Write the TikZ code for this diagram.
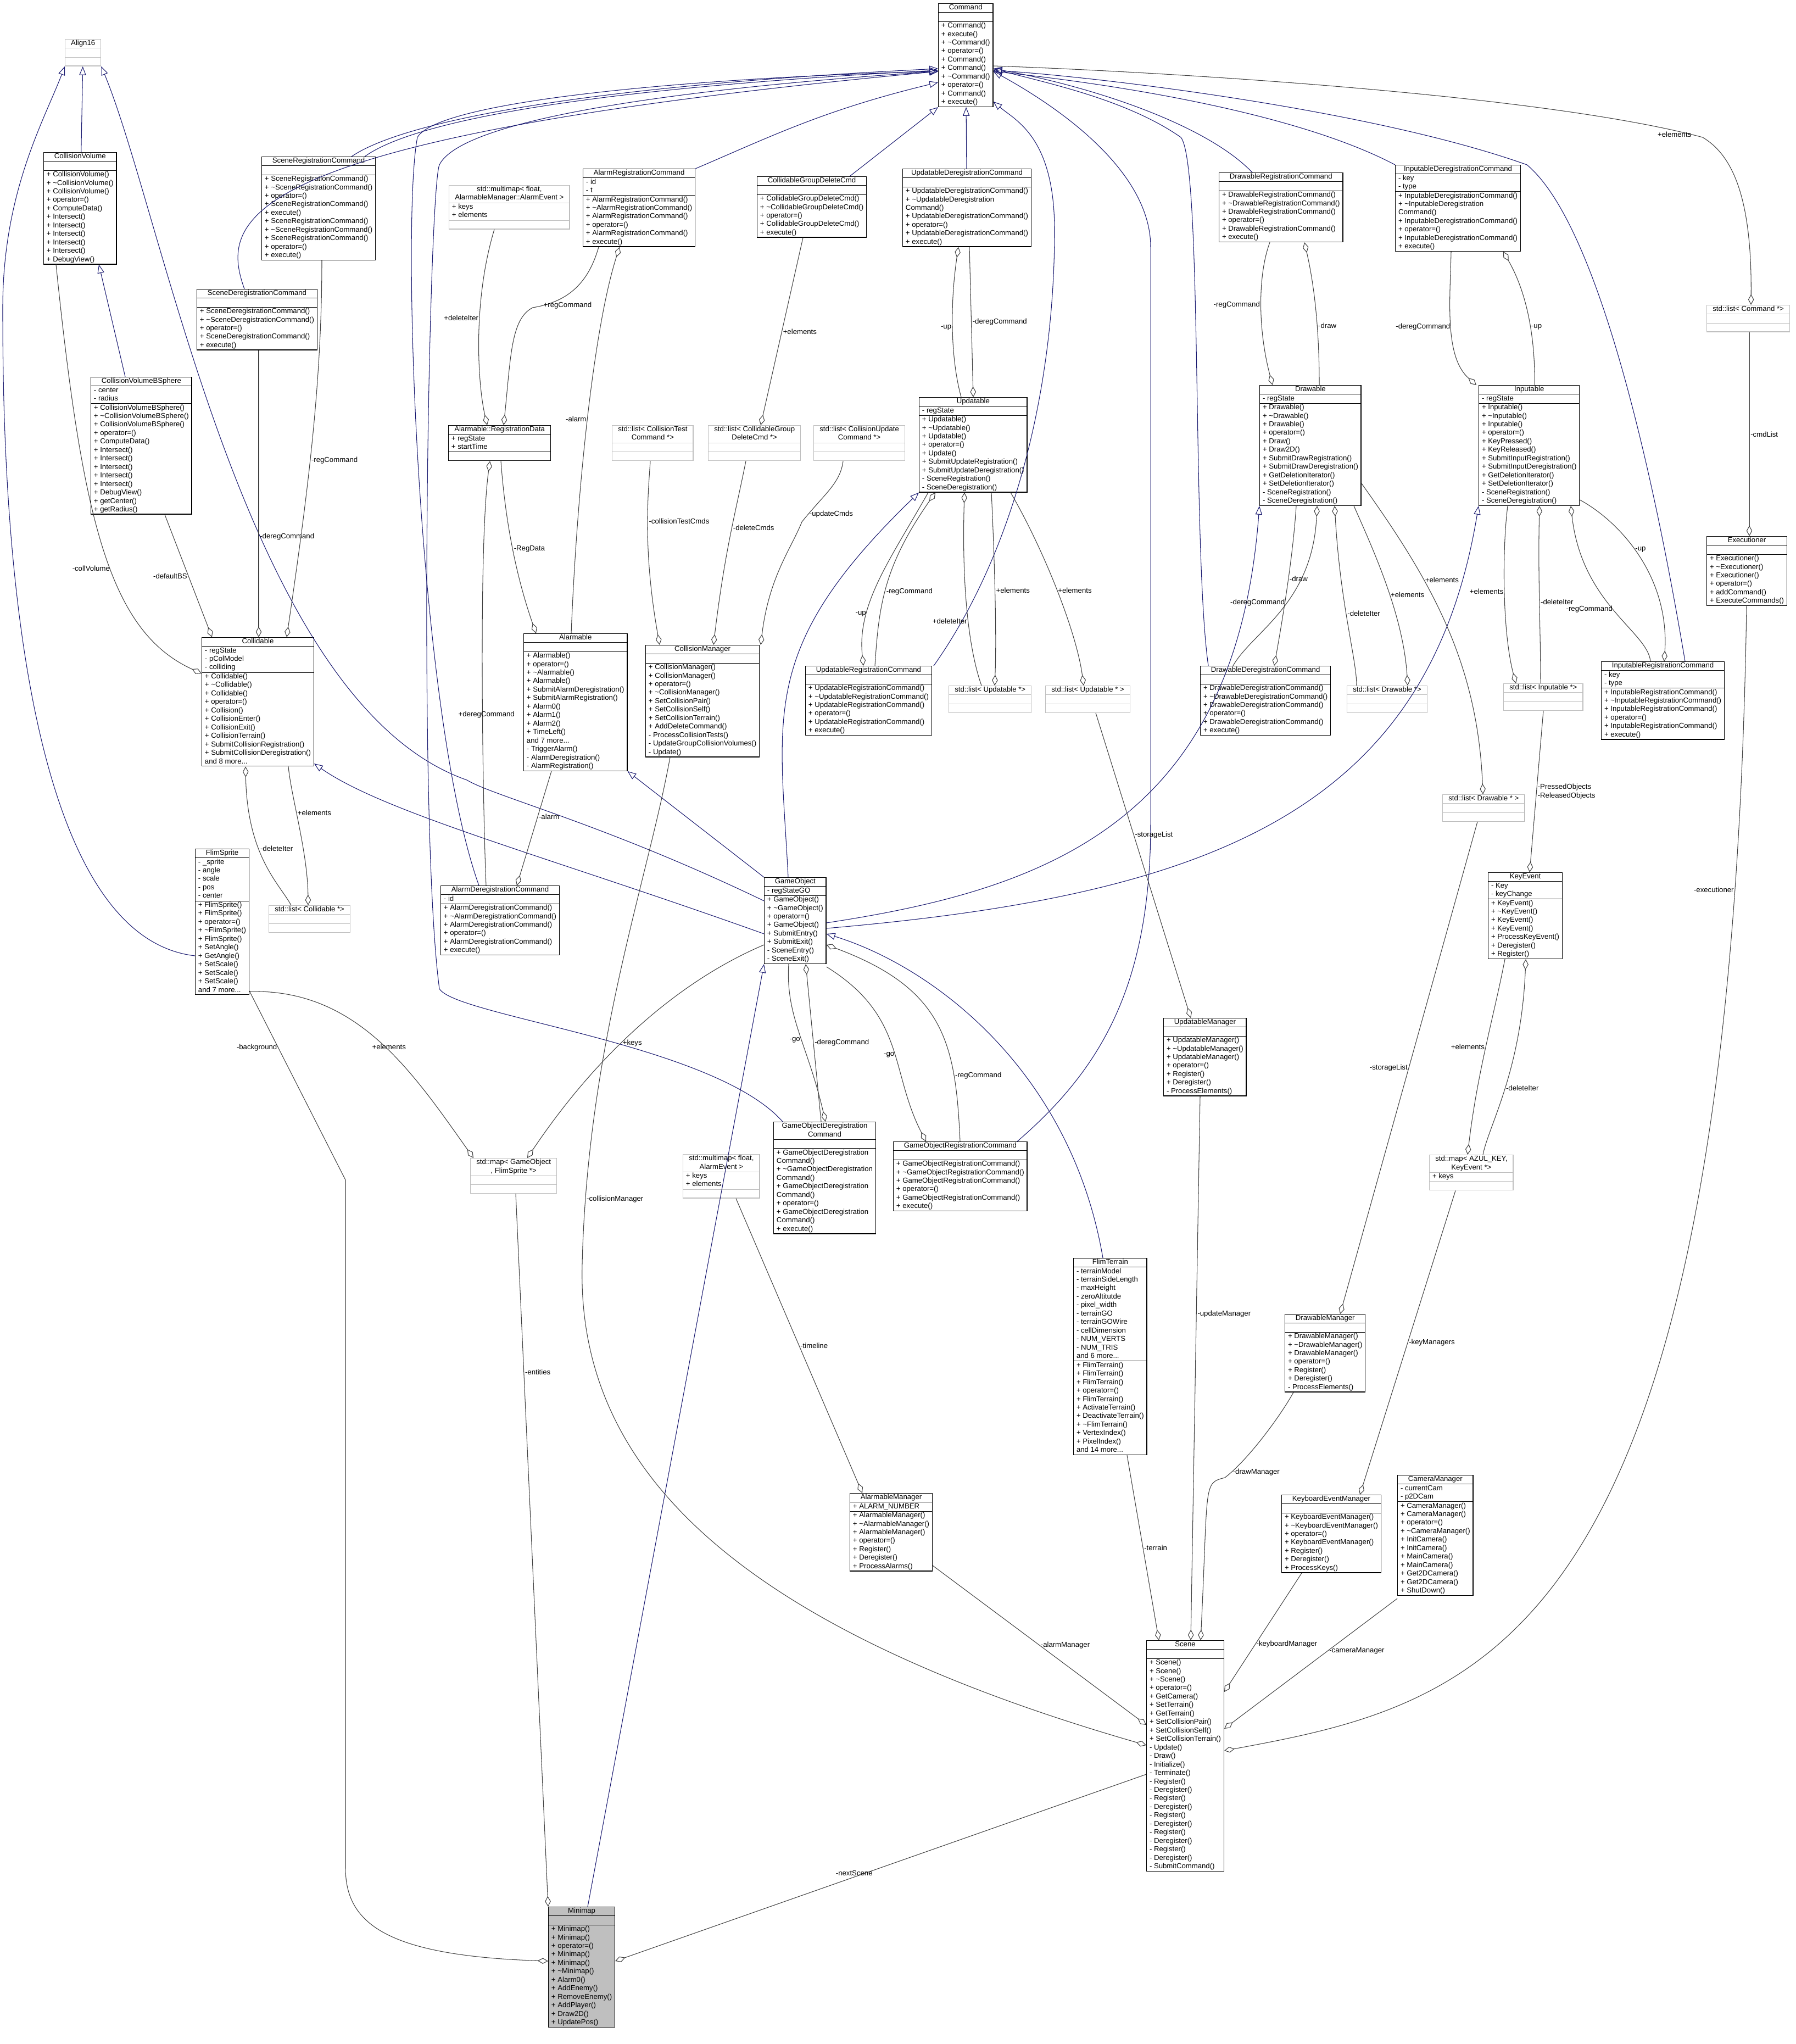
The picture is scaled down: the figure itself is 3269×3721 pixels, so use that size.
\documentclass[tikz,border=0pt]{standalone}
\usepackage{fontspec}
\setmainfont{Liberation Sans}
\usepackage[table]{xcolor}
\usetikzlibrary{arrows.meta}
\definecolor{navy}{RGB}{25,25,112}
\definecolor{aggc}{RGB}{64,64,64}
\definecolor{tmplc}{RGB}{191,191,191}
\setlength{\arrayrulewidth}{0.6pt}
\newcommand{\til}{\textasciitilde}
\newcommand{\cls}[3]{\begin{tabular}{@{\hspace{3pt}}l@{\hspace{3pt}}}\multicolumn{1}{c}{#1}\\\hline #2\\\hline #3\\\end{tabular}}
\newcommand{\two}[2]{\begin{tabular}{@{}c@{}}#1\\#2\end{tabular}}
\tikzset{
  box/.style={draw=black, line width=0.8pt, inner sep=0pt, anchor=north west, fill=white, font=\fontsize{7.5}{8.8}\selectfont,
    execute at begin node=\arrayrulecolor{black}},
  tbox/.style={box, draw=tmplc, execute at begin node=\arrayrulecolor{tmplc}},
  inh/.style={draw=navy, line width=0.6pt, -{Triangle[open,length=9pt,width=7pt]}},
  agg/.style={draw=aggc, line width=0.6pt, {Diamond[open,length=11pt,width=6pt]}-},
  lbl/.style={font=\fontsize{7.5}{8.8}\selectfont, inner sep=1pt}
}
\begin{document}
\begin{tikzpicture}[x=0.02cm,y=-0.02cm]
\useasboundingbox (0,0) rectangle (3269,3721);
% classes, top rows
\node[tbox] (align) at (118,71) {\cls{Align16}{}{}};
\node[box] (command) at (1708,6) {\cls{Command}{}{+ Command()\\+ execute()\\+ \til Command()\\+ operator=()\\+ Command()\\+ Command()\\+ \til Command()\\+ operator=()\\+ Command()\\+ execute()}};
\node[box] (collvol) at (79,277) {\cls{CollisionVolume}{}{+ CollisionVolume()\\+ \til CollisionVolume()\\+ CollisionVolume()\\+ operator=()\\+ ComputeData()\\+ Intersect()\\+ Intersect()\\+ Intersect()\\+ Intersect()\\+ Intersect()\\+ DebugView()}};
\node[box] (bsphere) at (165,686) {\cls{CollisionVolumeBSphere}{- center\\- radius}{+ CollisionVolumeBSphere()\\+ \til CollisionVolumeBSphere()\\+ CollisionVolumeBSphere()\\+ operator=()\\+ ComputeData()\\+ Intersect()\\+ Intersect()\\+ Intersect()\\+ Intersect()\\+ Intersect()\\+ DebugView()\\+ getCenter()\\+ getRadius()}};
\node[box] (scenereg) at (476,285) {\cls{SceneRegistrationCommand}{}{+ SceneRegistrationCommand()\\+ \til SceneRegistrationCommand()\\+ operator=()\\+ SceneRegistrationCommand()\\+ execute()\\+ SceneRegistrationCommand()\\+ \til SceneRegistrationCommand()\\+ SceneRegistrationCommand()\\+ operator=()\\+ execute()}};
\node[box] (scenedereg) at (358,526) {\cls{SceneDeregistrationCommand}{}{+ SceneDeregistrationCommand()\\+ \til SceneDeregistrationCommand()\\+ operator=()\\+ SceneDeregistrationCommand()\\+ execute()}};
\node[tbox] (mmalarmev) at (817,337) {\cls{\two{std::multimap< float,}{AlarmableManager::AlarmEvent >}}{+ keys\\+ elements}{}};
\node[box] (regdata) at (816,774) {\cls{Alarmable::RegistrationData}{+ regState\\+ startTime}{}};
\node[box] (alarmreg) at (1061,307) {\cls{AlarmRegistrationCommand}{- id\\- t}{+ AlarmRegistrationCommand()\\+ \til AlarmRegistrationCommand()\\+ AlarmRegistrationCommand()\\+ operator=()\\+ AlarmRegistrationCommand()\\+ execute()}};
\node[box] (cgdc) at (1378,321) {\cls{CollidableGroupDeleteCmd}{}{+ CollidableGroupDeleteCmd()\\+ \til CollidableGroupDeleteCmd()\\+ operator=()\\+ CollidableGroupDeleteCmd()\\+ execute()}};
\node[box] (upddereg) at (1643,307) {\cls{UpdatableDeregistrationCommand}{}{+ UpdatableDeregistrationCommand()\\+ \til UpdatableDeregistration\\Command()\\+ UpdatableDeregistrationCommand()\\+ operator=()\\+ UpdatableDeregistrationCommand()\\+ execute()}};
\node[box] (drawreg) at (2219,314) {\cls{DrawableRegistrationCommand}{}{+ DrawableRegistrationCommand()\\+ \til DrawableRegistrationCommand()\\+ DrawableRegistrationCommand()\\+ operator=()\\+ DrawableRegistrationCommand()\\+ execute()}};
\node[box] (inpdereg) at (2540,300) {\cls{InputableDeregistrationCommand}{- key\\- type}{+ InputableDeregistrationCommand()\\+ \til InputableDeregistration\\Command()\\+ InputableDeregistrationCommand()\\+ operator=()\\+ InputableDeregistrationCommand()\\+ execute()}};
\node[tbox] (lstcmd) at (3107,555) {\cls{std::list< Command *>}{}{}};
% middle rows
\node[tbox] (lstcoltest) at (1114,774) {\cls{\two{std::list< CollisionTest}{Command *>}}{}{}};
\node[tbox] (lstcgdc) at (1289,774) {\cls{\two{std::list< CollidableGroup}{DeleteCmd *>}}{}{}};
\node[tbox] (lstcolupd) at (1481,774) {\cls{\two{std::list< CollisionUpdate}{Command *>}}{}{}};
\node[box] (updatable) at (1673,723) {\cls{Updatable}{- regState}{+ Updatable()\\+ \til Updatable()\\+ Updatable()\\+ operator=()\\+ Update()\\+ SubmitUpdateRegistration()\\+ SubmitUpdateDeregistration()\\- SceneRegistration()\\- SceneDeregistration()}};
\node[box] (drawable) at (2293,701) {\cls{Drawable}{- regState}{+ Drawable()\\+ \til Drawable()\\+ Drawable()\\+ operator=()\\+ Draw()\\+ Draw2D()\\+ SubmitDrawRegistration()\\+ SubmitDrawDeregistration()\\+ GetDeletionIterator()\\+ SetDeletionIterator()\\- SceneRegistration()\\- SceneDeregistration()}};
\node[box] (inputable) at (2692,701) {\cls{Inputable}{- regState}{+ Inputable()\\+ \til Inputable()\\+ Inputable()\\+ operator=()\\+ KeyPressed()\\+ KeyReleased()\\+ SubmitInputRegistration()\\+ SubmitInputDeregistration()\\+ GetDeletionIterator()\\+ SetDeletionIterator()\\- SceneRegistration()\\- SceneDeregistration()}};
\node[box] (executioner) at (3107,976) {\cls{Executioner}{}{+ Executioner()\\+ \til Executioner()\\+ Executioner()\\+ operator=()\\+ addCommand()\\+ ExecuteCommands()}};
\node[box] (collidable) at (367,1160) {\cls{Collidable}{- regState\\- pColModel\\- colliding}{+ Collidable()\\+ \til Collidable()\\+ Collidable()\\+ operator=()\\+ Collision()\\+ CollisionEnter()\\+ CollisionExit()\\+ CollisionTerrain()\\+ SubmitCollisionRegistration()\\+ SubmitCollisionDeregistration()\\and 8 more...}};
\node[box] (alarmable) at (953,1153) {\cls{Alarmable}{}{+ Alarmable()\\+ operator=()\\+ \til Alarmable()\\+ Alarmable()\\+ SubmitAlarmDeregistration()\\+ SubmitAlarmRegistration()\\+ Alarm0()\\+ Alarm1()\\+ Alarm2()\\+ TimeLeft()\\and 7 more...\\- TriggerAlarm()\\- AlarmDeregistration()\\- AlarmRegistration()}};
\node[box] (colmgr) at (1175,1174) {\cls{CollisionManager}{}{+ CollisionManager()\\+ CollisionManager()\\+ operator=()\\+ \til CollisionManager()\\+ SetCollisionPair()\\+ SetCollisionSelf()\\+ SetCollisionTerrain()\\+ AddDeleteCommand()\\- ProcessCollisionTests()\\- UpdateGroupCollisionVolumes()\\- Update()}};
\node[box] (updreg) at (1466,1212) {\cls{UpdatableRegistrationCommand}{}{+ UpdatableRegistrationCommand()\\+ \til UpdatableRegistrationCommand()\\+ UpdatableRegistrationCommand()\\+ operator=()\\+ UpdatableRegistrationCommand()\\+ execute()}};
\node[tbox] (lstupd) at (1727,1248) {\cls{std::list< Updatable *>}{}{}};
\node[tbox] (lstupdb) at (1903,1248) {\cls{std::list< Updatable * >}{}{}};
\node[box] (drawdereg) at (2185,1212) {\cls{DrawableDeregistrationCommand}{}{+ DrawableDeregistrationCommand()\\+ \til DrawableDeregistrationCommand()\\+ DrawableDeregistrationCommand()\\+ operator=()\\+ DrawableDeregistrationCommand()\\+ execute()}};
\node[tbox] (lstdraw) at (2452,1248) {\cls{std::list< Drawable *>}{}{}};
\node[tbox] (lstinp) at (2737,1244) {\cls{std::list< Inputable *>}{}{}};
\node[box] (inpreg) at (2915,1204) {\cls{InputableRegistrationCommand}{- key\\- type}{+ InputableRegistrationCommand()\\+ \til InputableRegistrationCommand()\\+ InputableRegistrationCommand()\\+ operator=()\\+ InputableRegistrationCommand()\\+ execute()}};
\node[tbox] (lstdrawb) at (2626,1446) {\cls{std::list< Drawable * >}{}{}};
\node[box] (flimsprite) at (355,1545) {\cls{FlimSprite}{- \_sprite\\- angle\\- scale\\- pos\\- center}{+ FlimSprite()\\+ FlimSprite()\\+ operator=()\\+ \til FlimSprite()\\+ FlimSprite()\\+ SetAngle()\\+ GetAngle()\\+ SetScale()\\+ SetScale()\\+ SetScale()\\and 7 more...}};
\node[tbox] (lstcollidable) at (489,1648) {\cls{std::list< Collidable *>}{}{}};
\node[box] (alarmdereg) at (802,1612) {\cls{AlarmDeregistrationCommand}{- id}{+ AlarmDeregistrationCommand()\\+ \til AlarmDeregistrationCommand()\\+ AlarmDeregistrationCommand()\\+ operator=()\\+ AlarmDeregistrationCommand()\\+ execute()}};
\node[box] (gameobj) at (1391,1597) {\cls{GameObject}{- regStateGO}{+ GameObject()\\+ \til GameObject()\\+ operator=()\\+ GameObject()\\+ SubmitEntry()\\+ SubmitExit()\\- SceneEntry()\\- SceneExit()}};
\node[box] (keyevent) at (2709,1588) {\cls{KeyEvent}{- Key\\- keyChange}{+ KeyEvent()\\+ \til KeyEvent()\\+ KeyEvent()\\+ KeyEvent()\\+ ProcessKeyEvent()\\+ Deregister()\\+ Register()}};
\node[box] (updmgr) at (2118,1853) {\cls{UpdatableManager}{}{+ UpdatableManager()\\+ \til UpdatableManager()\\+ UpdatableManager()\\+ operator=()\\+ Register()\\+ Deregister()\\- ProcessElements()}};
\node[box] (godereg) at (1408,2042) {\cls{\two{GameObjectDeregistration}{Command}}{}{+ GameObjectDeregistration\\Command()\\+ \til GameObjectDeregistration\\Command()\\+ GameObjectDeregistration\\Command()\\+ operator=()\\+ GameObjectDeregistration\\Command()\\+ execute()}};
\node[box] (goreg) at (1626,2078) {\cls{GameObjectRegistrationCommand}{}{+ GameObjectRegistrationCommand()\\+ \til GameObjectRegistrationCommand()\\+ GameObjectRegistrationCommand()\\+ operator=()\\+ GameObjectRegistrationCommand()\\+ execute()}};
\node[tbox] (mapgo) at (856,2108) {\cls{\two{std::map< GameObject}{*, FlimSprite *>}}{}{}};
\node[tbox] (mmalarm) at (1243,2101) {\cls{\two{std::multimap< float,}{AlarmEvent >}}{+ keys\\+ elements}{}};
\node[tbox] (mapkey) at (2602,2102) {\cls{\two{std::map< AZUL\_KEY,}{KeyEvent *>}}{+ keys}{}};
% bottom rows
\node[box] (flimterrain) at (1954,2290) {\cls{FlimTerrain}{- terrainModel\\- terrainSideLength\\- maxHeight\\- zeroAltitutde\\- pixel\_width\\- terrainGO\\- terrainGOWire\\- cellDimension\\- NUM\_VERTS\\- NUM\_TRIS\\and 6 more...}{+ FlimTerrain()\\+ FlimTerrain()\\+ FlimTerrain()\\+ operator=()\\+ FlimTerrain()\\+ ActivateTerrain()\\+ DeactivateTerrain()\\+ \til FlimTerrain()\\+ VertexIndex()\\+ PixelIndex()\\and 14 more...}};
\node[box] (drawmgr) at (2339,2392) {\cls{DrawableManager}{}{+ DrawableManager()\\+ \til DrawableManager()\\+ DrawableManager()\\+ operator=()\\+ Register()\\+ Deregister()\\- ProcessElements()}};
\node[box] (alarmmgr) at (1547,2718) {\cls{AlarmableManager}{+ ALARM\_NUMBER}{+ AlarmableManager()\\+ \til AlarmableManager()\\+ AlarmableManager()\\+ operator=()\\+ Register()\\+ Deregister()\\+ ProcessAlarms()}};
\node[box] (kbdmgr) at (2333,2721) {\cls{KeyboardEventManager}{}{+ KeyboardEventManager()\\+ \til KeyboardEventManager()\\+ operator=()\\+ KeyboardEventManager()\\+ Register()\\+ Deregister()\\+ ProcessKeys()}};
\node[box] (cammgr) at (2544,2685) {\cls{CameraManager}{- currentCam\\- p2DCam}{+ CameraManager()\\+ CameraManager()\\+ operator=()\\+ \til CameraManager()\\+ InitCamera()\\+ InitCamera()\\+ MainCamera()\\+ MainCamera()\\+ Get2DCamera()\\+ Get2DCamera()\\+ ShutDown()}};
\node[box] (scene) at (2087,2986) {\cls{Scene}{}{+ Scene()\\+ Scene()\\+ \til Scene()\\+ operator=()\\+ GetCamera()\\+ SetTerrain()\\+ GetTerrain()\\+ SetCollisionPair()\\+ SetCollisionSelf()\\+ SetCollisionTerrain()\\- Update()\\- Draw()\\- Initialize()\\- Terminate()\\- Register()\\- Deregister()\\- Register()\\- Deregister()\\- Register()\\- Deregister()\\- Register()\\- Deregister()\\- Register()\\- Deregister()\\- SubmitCommand()}};
\node[box, fill=tmplc] (minimap) at (998,3471) {\cls{Minimap}{}{+ Minimap()\\+ Minimap()\\+ operator=()\\+ Minimap()\\+ Minimap()\\+ \til Minimap()\\+ Alarm0()\\+ AddEnemy()\\+ RemoveEnemy()\\+ AddPlayer()\\+ Draw2D()\\+ UpdatePos()}};
% inheritance
\draw[inh] (collvol) -- (align);
\draw[inh] (bsphere.north -| 228,0) -- (collvol.south -| 180,0);
\draw[inh] (flimsprite.west |- 0,1740) .. controls (10,1700) and (5,800) .. (5,560) .. controls (5,350) and (80,220) .. (align.south west);
\draw[inh] (gameobj.west |- 0,1640) .. controls (1100,1500) and (900,1450) .. (850,1420) .. controls (450,1280) and (300,400) .. (align.south east);
\draw[inh] (gameobj.west |- 0,1700) .. controls (1000,1560) and (700,1480) .. (collidable.east |- 0,1390);
\draw[inh] (gameobj.north west) -- (alarmable.south east);
\draw[inh] (gameobj.north -| 1435,0) .. controls (1420,1300) and (1380,1180) .. (updatable.south west);
\draw[inh] (gameobj.east |- 0,1680) .. controls (1900,1620) and (2250,1500) .. (drawable.south west);
\draw[inh] (gameobj.east |- 0,1690) .. controls (2200,1630) and (2600,1480) .. (inputable.south west);
\draw[inh] (minimap.north -| 1070,0) -- (gameobj.south west);
\draw[inh] (flimterrain.north -| 2008,0) .. controls (1950,1950) and (1700,1760) .. (gameobj.east |- 0,1700);
\draw[inh] (scenedereg.north -| 445,0) .. controls (400,400) and (420,250) .. (command.west |- 0,130);
\draw[inh] (scenereg.north -| 640,0) .. controls (720,230) and (1000,160) .. (command.west |- 0,125);
\draw[inh] (scenereg.north -| 664,0) .. controls (740,230) and (1000,165) .. (command.west |- 0,128);
\draw[inh] (alarmdereg.north -| 872,0) .. controls (760,1300) and (730,400) .. (760,250) .. controls (800,180) and (1300,140) .. (command.west |- 0,130);
\draw[inh] (godereg.north -| 1425,0) .. controls (1300,1900) and (830,1850) .. (800,1800) .. controls (760,1500) and (780,350) .. (800,300) .. controls (850,200) and (1400,150) .. (command.west |- 0,130);
\draw[inh] (alarmreg.north east) .. controls (1400,250) and (1500,200) .. (command.west |- 0,150);
\draw[inh] (cgdc.north -| 1547,0) -- (command.south west);
\draw[inh] (upddereg) -- (command);
\draw[inh] (updreg.north -| 1700,0) .. controls (1850,1000) and (1920,700) .. (1920,420) .. controls (1920,250) and (1850,220) .. (command.east |- 0,185);
\draw[inh] (goreg.north -| 1852,0) .. controls (2000,1950) and (2095,1800) .. (2095,1500) -- (2095,450) .. controls (2095,300) and (1900,180) .. (command.east |- 0,130);
\draw[inh] (drawdereg.north -| 2200,0) .. controls (2170,1000) and (2190,300) .. (2150,250) .. controls (2050,180) and (1900,150) .. (command.east |- 0,125);
\draw[inh] (drawreg.north -| 2280,0) .. controls (2200,230) and (2000,160) .. (command.east |- 0,125);
\draw[inh] (inpdereg.north west) .. controls (2350,200) and (2000,150) .. (command.east |- 0,130);
\draw[inh] (inpreg.north -| 3068,0) .. controls (3000,800) and (2900,400) .. (2780,300) .. controls (2500,200) and (2000,140) .. (command.east |- 0,128);
% aggregation
\draw[agg] (collidable.west |- 0,1226) .. controls (200,1150) and (150,950) .. node[lbl,pos=0.45,left]{-collVolume} (collvol.south -| 102,0);
\draw[agg] (collidable.north -| 386,0) -- node[lbl,pos=0.5,left]{-defaultBS} (bsphere.south -| 300,0);
\draw[agg] (collidable.north -| 471,0) -- node[lbl,pos=0.35,right]{-deregCommand} (scenedereg.south -| 471,0);
\draw[agg] (collidable.north -| 522,0) .. controls (560,900) and (586,700) .. node[lbl,pos=0.45,right]{-regCommand} (scenereg.south -| 586,0);
\draw[agg] (collidable.south -| 447,0) .. controls (450,1560) and (510,1610) .. node[lbl,pos=0.4,right]{-deleteIter} (lstcollidable.north -| 530,0);
\draw[agg] (lstcollidable.north -| 561,0) .. controls (560,1550) and (530,1450) .. node[lbl,pos=0.6,right]{+elements} (collidable.south -| 525,0);
\draw[agg] (regdata.north -| 887,0) .. controls (870,700) and (860,550) .. node[lbl,pos=0.6,left]{+deleteIter} (mmalarmev.south -| 900,0);
\draw[agg] (regdata.north -| 917,0) .. controls (930,650) and (930,580) .. (970,560) .. controls (1030,550) and (1070,520) .. node[lbl,pos=0.1,right]{+regCommand} (alarmreg.south -| 1090,0);
\draw[agg] (alarmable.north -| 976,0) .. controls (940,1050) and (920,950) .. node[lbl,pos=0.5,right]{-RegData} (regdata.south -| 912,0);
\draw[agg] (regdata.south -| 892,0) .. controls (870,1000) and (880,1500) .. node[lbl,pos=0.56,xshift=4]{+deregCommand} (alarmdereg.north -| 885,0);
\draw[agg] (alarmreg.south -| 1128,0) .. controls (1080,600) and (1050,900) .. node[lbl,pos=0.5,left]{-alarm} (alarmable.north -| 1040,0);
\draw[agg] (alarmdereg.north -| 941,0) -- node[lbl,pos=0.6,right]{-alarm} (alarmable.south -| 1004,0);
\draw[agg] (lstcgdc.north -| 1385,0) -- node[lbl,pos=0.5,right]{+elements} (cgdc.south -| 1462,0);
\draw[agg] (colmgr.north -| 1201,0) .. controls (1170,1000) and (1180,900) .. node[lbl,pos=0.55,right]{-collisionTestCmds} (lstcoltest.south -| 1184,0);
\draw[agg] (colmgr.north -| 1299,0) .. controls (1320,1000) and (1340,930) .. node[lbl,pos=0.55,right]{-deleteCmds} (lstcgdc.south -| 1358,0);
\draw[agg] (colmgr.north -| 1385,0) .. controls (1400,1050) and (1440,1000) .. (1460,950) .. controls (1500,900) and (1530,880) .. node[lbl,pos=0.1,right]{-updateCmds} (lstcolupd.south -| 1535,0);
\draw[agg] (upddereg.south -| 1745,0) .. controls (1730,550) and (1730,650) .. node[lbl,pos=0.5,left]{-up} (updatable.north -| 1750,0);
\draw[agg] (updatable.north -| 1772,0) -- node[lbl,pos=0.5,right]{-deregCommand} (upddereg.south -| 1765,0);
\draw[agg] (updreg.north -| 1572,0) .. controls (1560,1100) and (1620,1020) .. node[lbl,pos=0.3,left]{-up} (updatable.south -| 1690,0);
\draw[agg] (updatable.south -| 1703,0) .. controls (1610,1030) and (1600,1100) .. node[lbl,pos=0.55,right]{-regCommand} (updreg.north -| 1593,0);
\draw[agg] (updatable.south -| 1756,0) .. controls (1750,1100) and (1770,1200) .. node[lbl,pos=0.5,left]{+deleteIter} (lstupd.north -| 1787,0);
\draw[agg] (lstupd.north -| 1811,0) .. controls (1815,1150) and (1810,1000) .. node[lbl,pos=0.5,right]{+elements} (updatable.south -| 1805,0);
\draw[agg] (lstupdb.north -| 1973,0) .. controls (1960,1150) and (1900,1000) .. node[lbl,pos=0.5,right]{+elements} (updatable.south -| 1840,0);
\draw[agg] (updmgr.north -| 2168,0) -- node[lbl,pos=0.6,right]{-storageList} (lstupdb.south -| 1995,0);
\draw[agg] (drawable.north -| 2317,0) .. controls (2290,600) and (2290,500) .. node[lbl,pos=0.5,left]{-regCommand} (drawreg.south -| 2312,0);
\draw[agg] (drawreg.south -| 2375,0) .. controls (2400,550) and (2402,650) .. node[lbl,pos=0.5,right]{-draw} (drawable.north -| 2402,0);
\draw[agg] (inputable.north -| 2688,0) .. controls (2630,650) and (2640,550) .. node[lbl,pos=0.5,left]{-deregCommand} (inpdereg.south -| 2642,0);
\draw[agg] (inpdereg.south -| 2737,0) .. controls (2790,550) and (2795,650) .. node[lbl,pos=0.5,right]{-up} (inputable.north -| 2794,0);
\draw[agg] (lstcmd.north -| 3188,0) .. controls (3190,350) and (3150,280) .. (3100,250) .. controls (2800,170) and (2100,130) .. node[lbl,pos=0.02,left]{+elements} (command.east |- 0,120);
\draw[agg] (executioner.north -| 3185,0) -- node[lbl,pos=0.5,right]{-cmdList} (lstcmd.south -| 3185,0);
\draw[agg] (drawdereg.north -| 2320,0) .. controls (2340,1100) and (2355,1000) .. node[lbl,pos=0.5,right]{-draw} (drawable.south -| 2360,0);
\draw[agg] (drawable.south -| 2398,0) .. controls (2390,1100) and (2280,1150) .. node[lbl,pos=0.45,left]{-deregCommand} (drawdereg.north -| 2245,0);
\draw[agg] (drawable.south -| 2430,0) .. controls (2440,1100) and (2470,1200) .. node[lbl,pos=0.45,right]{-deleteIter} (lstdraw.north -| 2470,0);
\draw[agg] (lstdraw.north -| 2563,0) .. controls (2555,1120) and (2500,1000) .. node[lbl,pos=0.45,right]{+elements} (drawable.south -| 2465,0);
\draw[agg] (lstdrawb.north -| 2700,0) .. controls (2690,1200) and (2600,1050) .. node[lbl,pos=0.65,right]{+elements} (drawable.east |- 0,880);
\draw[agg] (drawmgr.north -| 2440,0) -- node[lbl,pos=0.5,left]{-storageList} (lstdrawb.south -| 2690,0);
\draw[agg] (lstinp.north -| 2760,0) .. controls (2735,1150) and (2735,1000) .. node[lbl,pos=0.5,left]{+elements} (inputable.south -| 2745,0);
\draw[agg] (inputable.south -| 2803,0) .. controls (2800,1050) and (2805,1150) .. node[lbl,pos=0.5,right]{-deleteIter} (lstinp.north -| 2805,0);
\draw[agg] (inputable.south -| 2860,0) .. controls (2880,1100) and (3000,1150) .. node[lbl,pos=0.5,left]{-regCommand} (inpreg.north -| 3005,0);
\draw[agg] (inpreg.north -| 3030,0) .. controls (3040,1050) and (2950,950) .. node[lbl,pos=0.55,right]{-up} (inputable.east |- 0,910);
\draw[agg] (keyevent.north -| 2785,0) -- node[lbl,pos=0.5,right,align=left]{-PressedObjects\\-ReleasedObjects} (lstinp.south -| 2810,0);
\draw[agg] (mapkey.north -| 2672,0) .. controls (2690,1950) and (2720,1850) .. node[lbl,pos=0.5,left]{+elements} (keyevent.south -| 2740,0);
\draw[agg] (keyevent.south -| 2778,0) .. controls (2770,1950) and (2710,2050) .. node[lbl,pos=0.5,right]{-deleteIter} (mapkey.north -| 2700,0);
\draw[agg] (kbdmgr.north -| 2476,0) -- node[lbl,pos=0.5,right]{-keyManagers} (mapkey.south -| 2650,0);
\draw[agg] (godereg.north -| 1503,0) .. controls (1470,1900) and (1430,1850) .. node[lbl,pos=0.45,left]{-go} (gameobj.south -| 1436,0);
\draw[agg] (gameobj.south -| 1467,0) -- node[lbl,pos=0.5,right]{-deregCommand} (godereg.north -| 1495,0);
\draw[agg] (goreg.north -| 1686,0) .. controls (1620,1950) and (1650,1850) .. node[lbl,pos=0.45,left]{-go} (gameobj.east |- 0,1760);
\draw[agg] (gameobj.east |- 0,1720) .. controls (1720,1800) and (1740,1900) .. node[lbl,pos=0.75,right]{-regCommand} (goreg.north -| 1748,0);
\draw[agg] (mapgo.north -| 862,0) .. controls (750,1950) and (650,1800) .. node[lbl,pos=0.45,above]{+elements} (flimsprite.east |- 0,1805);
\draw[agg] (mapgo.north -| 960,0) .. controls (1100,1900) and (1250,1780) .. node[lbl,pos=0.4,right]{+keys} (gameobj.west |- 0,1720);
\draw[agg] (alarmmgr.north -| 1570,0) -- node[lbl,pos=0.5,right]{-timeline} (mmalarm.south -| 1340,0);
\draw[agg] (minimap.west |- 0,3570) .. controls (700,3560) and (629,3500) .. (629,3400) -- (629,2148) -- node[lbl,pos=0.7,left]{-background} (flimsprite.east |- 0,1804);
\draw[agg] (minimap.north west) -- node[lbl,pos=0.75,right]{-entities} (mapgo.south -| 939,0);
\draw[agg] (minimap.east |- 0,3570) -- node[lbl,pos=0.45,above]{-nextScene} (scene.west |- 0,3230);
\draw[agg] (scene.north -| 2110,0) -- node[lbl,pos=0.5,right]{-terrain} (flimterrain.south -| 2052,0);
\draw[agg] (scene.north -| 2168,0) -- node[lbl,pos=0.6,right]{-updateManager} (updmgr.south -| 2185,0);
\draw[agg] (scene.north -| 2186,0) .. controls (2200,2700) and (2190,2700) .. (2230,2690) .. controls (2270,2660) and (2330,2580) .. node[lbl,pos=0.1,right]{-drawManager} (drawmgr.south -| 2355,0);
\draw[agg] (scene.east |- 0,3080) -- node[lbl,pos=0.4,right]{-keyboardManager} (kbdmgr.south -| 2370,0);
\draw[agg] (scene.east |- 0,3147) -- node[lbl,pos=0.6,right]{-cameraManager} (cammgr.west |- 0,2910);
\draw[agg] (scene.east |- 0,3187) .. controls (2700,3100) and (3150,3000) .. node[lbl,pos=0.9,left]{-executioner} (executioner.south -| 3180,0);
\draw[agg] (scene.west |- 0,3140) -- node[lbl,pos=0.5,right]{-alarmManager} (alarmmgr.east |- 0,2850);
\draw[agg] (scene.west |- 0,3177) .. controls (1300,2950) and (1050,2650) .. (1060,2300) .. controls (1070,1900) and (1180,1600) .. node[lbl,pos=0.1,right]{-collisionManager} (colmgr.south -| 1220,0);
\end{tikzpicture}
\end{document}
